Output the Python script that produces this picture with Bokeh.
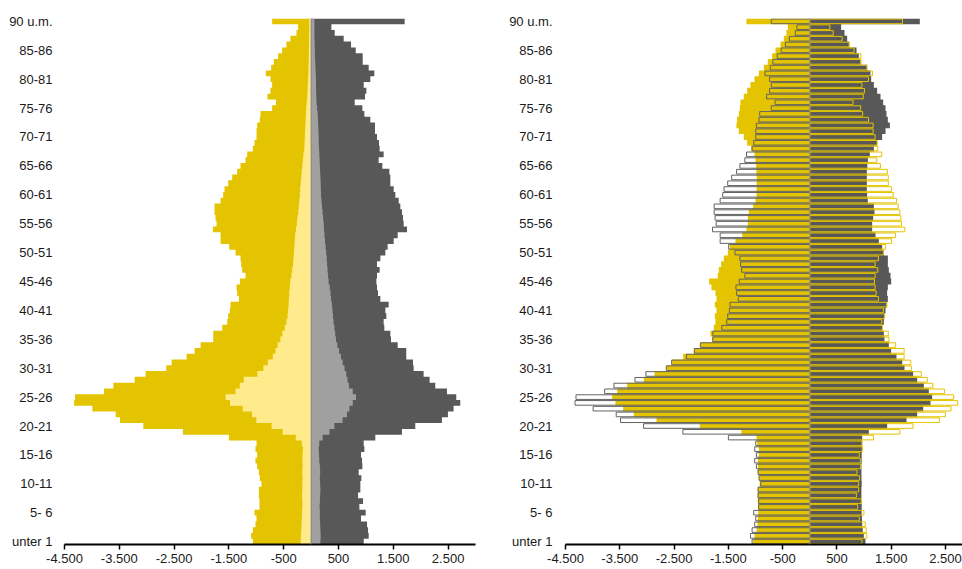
from bokeh.plotting import figure
from bokeh.layouts import row
from bokeh.models import Range1d, FixedTicker, Span, ColumnDataSource
from bokeh.embed import file_html
from bokeh.resources import INLINE

ages = list(range(0, 91))

# Women, total (left chart outer bars / right chart outlined bars)
women_total = [1063, 1094, 1063, 1015, 996, 1033, 942, 942, 954, 954,
               905, 936, 954, 984, 1015, 984, 1015, 996, 1500, 2339,
               3062, 3487, 3566, 3991, 4325, 4307, 3779, 3608, 3220, 3019,
               2643, 2545, 2272, 2126, 2017, 1786, 1786, 1622, 1531, 1513,
               1482, 1470, 1318, 1349, 1361, 1300, 1197, 1258, 1276, 1288,
               1379, 1495, 1652, 1652, 1792, 1725, 1744, 1762, 1762, 1652,
               1604, 1580, 1513, 1440, 1349, 1288, 1197, 1166, 1063, 1033,
               996, 996, 984, 936, 923, 711, 640, 796, 741, 711,
               741, 826, 729, 680, 601, 529, 450, 377, 267, 237, 711]
# Women, inner part (light yellow)
women_inner = [190, 185, 180, 175, 170, 165, 160, 160, 165, 160,
               160, 155, 160, 155, 160, 155, 150, 170, 280, 520,
               720, 1000, 1080, 1250, 1480, 1560, 1380, 1300, 1230, 980,
               870, 790, 700, 650, 610, 560, 525, 480, 450, 430,
               420, 410, 405, 400, 390, 380, 360, 345, 330, 322,
               315, 305, 300, 290, 275, 260, 250, 235, 225, 215,
               205, 200, 190, 180, 170, 160, 150, 140, 125, 120,
               115, 110, 105, 100, 95, 90, 80, 70, 65, 60,
               55, 50, 48, 45, 42, 40, 38, 36, 35, 34, 36]
# Men, total (left chart outer bars / right chart outlined bars)
men_total = [960, 1051, 1039, 1021, 911, 996, 881, 948, 857, 899,
             899, 917, 869, 936, 930, 911, 972, 960, 1172, 1658,
             1901, 2387, 2497, 2600, 2722, 2649, 2479, 2266, 2163, 2053,
             1871, 1859, 1737, 1737, 1580, 1458, 1446, 1336, 1324, 1373,
             1355, 1415, 1264, 1221, 1203, 1191, 1203, 1251, 1203, 1264,
             1355, 1397, 1507, 1580, 1750, 1689, 1677, 1658, 1628, 1598,
             1537, 1507, 1446, 1446, 1428, 1300, 1233, 1324, 1251, 1239,
             1203, 1166, 1166, 1081, 972, 936, 796, 984, 1008, 960,
             1081, 1154, 1051, 942, 942, 814, 729, 595, 431, 370, 1707]
# Men, inner part (light grey)
men_inner = [170, 175, 170, 165, 160, 160, 155, 160, 165, 170,
             165, 160, 165, 160, 150, 145, 140, 150, 210, 335,
             425, 575, 655, 700, 760, 820, 760, 690, 665, 640,
             610, 575, 545, 510, 480, 455, 440, 425, 410, 400,
             390, 380, 365, 355, 340, 320, 310, 300, 292, 285,
             275, 265, 255, 245, 235, 230, 220, 210, 200, 190,
             182, 178, 175, 170, 165, 160, 155, 150, 146, 140,
             138, 135, 130, 125, 120, 110, 100, 95, 92, 90,
             88, 85, 80, 75, 70, 68, 65, 62, 60, 60, 60]
# Comparison population (right chart filled bars)
women_comp = [1044, 1019, 980, 965, 960, 950, 955, 960, 958, 955,
              925, 935, 950, 955, 958, 939, 939, 970, 982, 1259,
              2026, 2824, 3242, 3438, 3580, 3641, 3549, 3365, 3058, 2861,
              2640, 2536, 2333, 2137, 2014, 1799, 1830, 1768, 1738, 1750,
              1719, 1750, 1719, 1738, 1811, 1854, 1695, 1676, 1633, 1584,
              1510, 1474, 1369, 1246, 1167, 1142, 1142, 1124, 1044, 1000,
              982, 980, 980, 978, 985, 990, 1000, 1020, 1081, 1154,
              1216, 1308, 1351, 1339, 1308, 1289, 1277, 1216, 1154, 1093,
              1019, 939, 847, 774, 694, 632, 540, 479, 430, 405, 1167]
men_comp = [1025, 995, 975, 965, 960, 955, 955, 952, 950, 950,
            955, 952, 950, 950, 955, 955, 958, 964, 964, 1087,
            1424, 1781, 1977, 2088, 2223, 2253, 2192, 2100, 1977, 1903,
            1744, 1701, 1596, 1498, 1455, 1375, 1363, 1332, 1363, 1375,
            1394, 1424, 1437, 1424, 1437, 1498, 1486, 1455, 1437, 1437,
            1363, 1332, 1271, 1210, 1148, 1148, 1167, 1191, 1179, 1068,
            1056, 1050, 1050, 1050, 1050, 1060, 1070, 1105, 1180, 1240,
            1332, 1394, 1474, 1437, 1412, 1394, 1351, 1302, 1240, 1179,
            1130, 1117, 1056, 933, 903, 860, 718, 688, 639, 577, 2026]

age_ticks = list(range(0, 91, 5))
age_labels = ["unter 1", "5- 6", "10-11", "15-16", "20-21", "25-26", "30-31",
              "35-36", "40-41", "45-46", "50-51", "55-56", "60-61", "65-66",
              "70-71", "75-76", "80-81", "85-86", "90 u.m."]
x_ticks = [-4500, -3500, -2500, -1500, -500, 500, 1500, 2500]
x_labels = ["-4.500", "-3.500", "-2.500", "-1.500", "-500", "500", "1.500", "2.500"]

YELLOW = "#E4C400"
LIGHT_YELLOW = "#FFEB8C"
DARK_GREY = "#585858"
LIGHT_GREY = "#A0A0A0"
FONT = "Liberation Sans"

src = ColumnDataSource(dict(
    age=ages,
    wt=[-v for v in women_total],
    mt=men_total,
))


def step_area(values, sign):
    """Contiguous bar column (one bar per age, no gaps) as one step outline."""
    xs, ys = [0], [ages[0] - 0.5]
    for a, v in zip(ages, values):
        xs += [sign * v, sign * v]
        ys += [a - 0.5, a + 0.5]
    xs.append(0)
    ys.append(ages[-1] + 0.5)
    return xs, ys


def base(width, x_end, border_left, border_right, standoff):
    p = figure(width=width, height=569, output_backend="svg", toolbar_location=None,
               x_range=Range1d(-4500, x_end), y_range=Range1d(-0.5, 90.5),
               min_border_left=border_left, min_border_right=border_right,
               min_border_top=18, min_border_bottom=25)
    p.outline_line_color = None
    p.grid.visible = False
    p.background_fill_color = "white"
    p.border_fill_color = "white"
    xa = p.xaxis[0]
    xa.ticker = FixedTicker(ticks=x_ticks)
    xa.major_label_overrides = dict(zip(x_ticks, x_labels))
    xa.axis_line_color = "black"
    xa.axis_line_width = 2
    xa.major_tick_line_color = "black"
    xa.major_tick_line_width = 1.5
    xa.major_tick_out = 5
    xa.major_tick_in = 0
    xa.minor_tick_line_color = None
    xa.major_label_standoff = 4
    xa.major_label_text_font = FONT
    xa.major_label_text_font_size = "13px"
    xa.major_label_text_color = "#1a1a1a"
    ya = p.yaxis[0]
    ya.ticker = FixedTicker(ticks=age_ticks)
    ya.major_label_overrides = dict(zip(age_ticks, age_labels))
    ya.axis_line_color = None
    ya.major_tick_line_color = None
    ya.minor_tick_line_color = None
    ya.major_tick_out = 0
    ya.major_tick_in = 0
    ya.major_label_standoff = standoff
    ya.major_label_text_font = FONT
    ya.major_label_text_font_size = "13px"
    ya.major_label_text_color = "#1a1a1a"
    return p


# Left chart
p1 = base(480, 3000, 64, 5, 12)
for vals, sign, col in [(women_total, -1, YELLOW), (women_inner, -1, LIGHT_YELLOW),
                        (men_total, 1, DARK_GREY), (men_inner, 1, LIGHT_GREY)]:
    xs, ys = step_area(vals, sign)
    p1.patch(xs, ys, fill_color=col, line_color=None)
p1.add_layout(Span(location=0, dimension="height", line_color="#8a8a8a", line_width=1))

# Right chart
p2 = base(482, 2812, 85, 0, 13)
for vals, sign, col in [(women_comp, -1, YELLOW), (men_comp, 1, DARK_GREY)]:
    xs, ys = step_area(vals, sign)
    p2.patch(xs, ys, fill_color=col, line_color=None)
p2.hbar(y="age", left="wt", right=0, height=0.8, source=src,
        fill_color=None, line_color="#636363", line_width=1)
p2.hbar(y="age", left=0, right="mt", height=0.8, source=src,
        fill_color=None, line_color=YELLOW, line_width=1)
p2.add_layout(Span(location=0, dimension="height", line_color="#8a8a8a", line_width=1))

layout = row(p1, p2)
open("out.html", "w").write(file_html(layout, INLINE))
